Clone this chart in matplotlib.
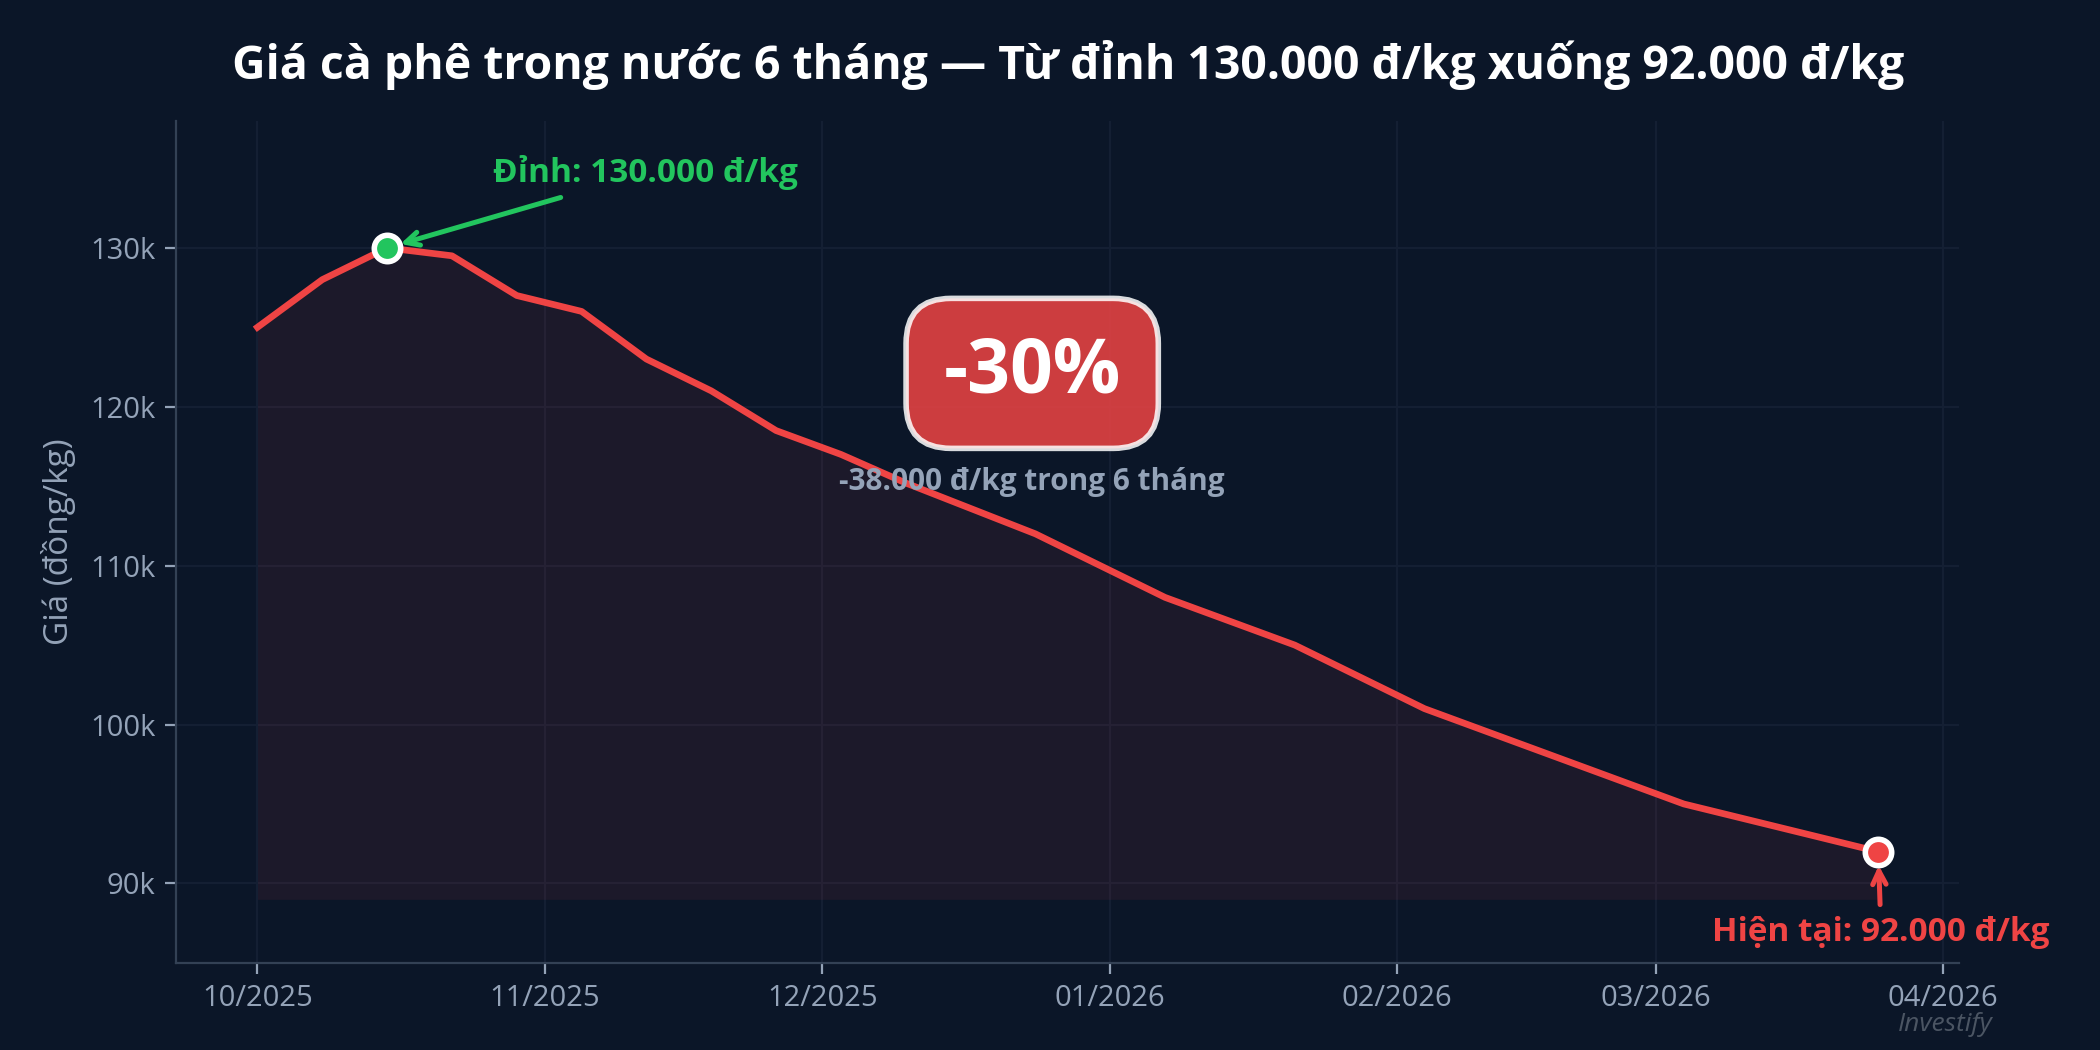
import matplotlib
matplotlib.use('Agg')
import matplotlib.pyplot as plt
import matplotlib.dates as mdates
import pandas as pd

plt.rcParams['font.family'] = ['Open Sans', 'Noto Sans', 'DejaVu Sans']

# weekly domestic coffee price, VND/kg
start_date = '2025-10-01'
n_weeks = 26
prices = [125000, 128000, 130000, 129500, 127000, 126000, 123000, 121000,
          118500, 117000, 115200, 113600, 112000, 110000, 108000, 106500,
          105000, 103000, 101000, 99500, 98000, 96500, 95000, 94000,
          93000, 92000]
y_ticks = [90000, 100000, 110000, 120000, 130000]

title = 'Giá cà phê trong nước 6 tháng — Từ đỉnh 130.000 đ/kg xuống 92.000 đ/kg'
peak_label = 'Đỉnh: 130.000 đ/kg'
now_label = 'Hiện tại: 92.000 đ/kg'
badge_label = '-30%'
sub_label = '-38.000 đ/kg trong 6 tháng'

BG = '#0b1628'
RED = '#ef4444'
GREEN = '#22c55e'
GREY = '#94a3b8'


def main():
    dates = pd.date_range(start_date, periods=n_weeks, freq='7D')
    peak = prices.index(max(prices))

    fig, ax = plt.subplots(figsize=(10.5, 5.25), dpi=200)
    fig.patch.set_facecolor(BG)
    ax.set_facecolor(BG)
    fig.subplots_adjust(left=0.084, right=0.933, bottom=0.083, top=0.885)

    ax.fill_between(dates, prices, min(prices) - 3000, color=RED, alpha=0.08, lw=0)
    ax.plot(dates, prices, color=RED, lw=2.4, zorder=3)
    ax.plot(dates[peak], prices[peak], 'o', ms=9.5, mfc=GREEN, mec='white', mew=2, zorder=5)
    ax.plot(dates[-1], prices[-1], 'o', ms=9.5, mfc=RED, mec='white', mew=2, zorder=5)

    ax.annotate(peak_label, xy=(dates[peak], prices[peak]), xytext=(93, 27),
                textcoords='offset points', ha='center', va='center',
                color=GREEN, fontsize=12, fontweight='bold',
                arrowprops=dict(arrowstyle='->', color=GREEN, lw=1.8, shrinkB=5))
    ax.annotate(now_label, xy=(dates[-1], prices[-1]), xytext=(1, -29),
                textcoords='offset points', ha='center', va='center',
                color=RED, fontsize=12, fontweight='bold',
                arrowprops=dict(arrowstyle='->', color=RED, lw=1.8, shrinkB=5))

    ax.text(0.48, 0.70, badge_label, transform=ax.transAxes, ha='center', va='center',
            fontsize=27, fontweight='bold', color='white', zorder=6,
            bbox=dict(boxstyle='round,pad=0.5,rounding_size=0.6', fc=RED, ec='white',
                      lw=2, alpha=0.85))
    ax.text(0.48, 0.571, sub_label, transform=ax.transAxes, ha='center', va='center',
            fontsize=10.7, fontweight='bold', color=GREY, zorder=6)

    ax.set_ylim(85000, 138000)
    ax.set_yticks(y_ticks)
    ax.set_yticklabels([f'{v // 1000}k' for v in y_ticks])
    ax.xaxis.set_major_locator(mdates.MonthLocator())
    ax.xaxis.set_major_formatter(mdates.DateFormatter('%m/%Y'))

    ax.set_title(title, color='white', fontsize=16.7, fontweight='bold', pad=15)
    ax.set_ylabel('Giá (đồng/kg)', color=GREY, fontsize=12, labelpad=5)
    ax.tick_params(colors=GREY, labelsize=10.5, length=4)
    ax.grid(True, color='#141f33', lw=0.8)
    ax.set_axisbelow(True)
    for side in ['top', 'right']:
        ax.spines[side].set_visible(False)
    for side in ['left', 'bottom']:
        ax.spines[side].set_color('#334155')

    fig.text(0.949, 0.024, 'Investify', ha='right', va='center', fontsize=9.5,
             style='italic', color='#4b5563')

    fig.savefig('out.png', dpi=200, facecolor=BG)


if __name__ == '__main__':
    main()
